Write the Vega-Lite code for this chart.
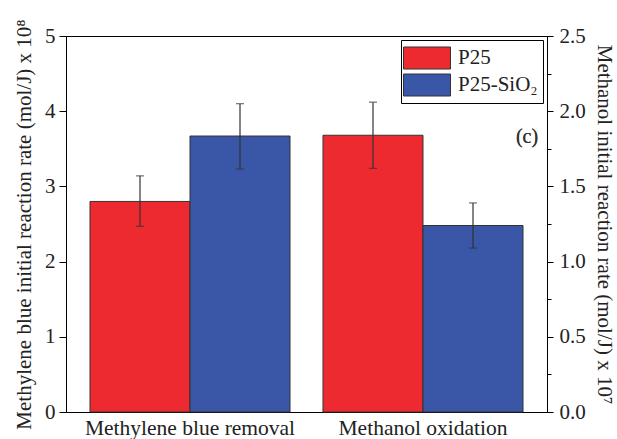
{
  "$schema": "https://vega.github.io/schema/vega-lite/v6.json",
  "width": 481,
  "height": 376,
  "autosize": {"type": "none"},
  "padding": {"left": 66, "top": 36, "right": 70, "bottom": 27},
  "background": "white",
  "config": {
    "font": "Liberation Serif",
    "view": {"stroke": "black", "strokeWidth": 1},
    "axis": {"domainColor": "black", "tickColor": "black", "labelColor": "#222", "titleColor": "#222", "titleFontWeight": "normal", "grid": false}
  },
  "datasets": {
    "mb": [
      {"process": "Methylene blue removal", "catalyst": "P25", "rate": 2.80, "lo": 2.47, "hi": 3.14},
      {"process": "Methylene blue removal", "catalyst": "P25-SiO₂", "rate": 3.67, "lo": 3.23, "hi": 4.10}
    ],
    "meoh": [
      {"process": "Methanol oxidation", "catalyst": "P25", "rate": 1.84, "lo": 1.62, "hi": 2.06},
      {"process": "Methanol oxidation", "catalyst": "P25-SiO₂", "rate": 1.24, "lo": 1.09, "hi": 1.39}
    ]
  },
  "encoding": {
    "x": {
      "field": "process", "type": "nominal",
      "sort": ["Methylene blue removal", "Methanol oxidation"],
      "scale": {"domain": ["Methylene blue removal", "Methanol oxidation"], "paddingInner": 0.1416, "paddingOuter": 0.103},
      "axis": {"title": null, "labelAngle": 0, "ticks": false, "labelFontSize": 21.5, "labelPadding": 5, "labelLimit": 0, "domainColor": "black"}
    },
    "xOffset": {"field": "catalyst", "type": "nominal", "scale": {"domain": ["P25", "P25-SiO₂"], "paddingInner": 0, "paddingOuter": 0}}
  },
  "layer": [
    {
      "data": {"name": "mb"},
      "layer": [
        {
          "mark": {"type": "bar", "stroke": "#333", "strokeWidth": 1},
          "encoding": {
            "y": {"field": "rate", "type": "quantitative",
              "scale": {"domain": [0, 5], "nice": false},
              "axis": {"title": "Methylene blue initial reaction rate (mol/J) x 10⁸", "orient": "left", "values": [0,1,2,3,4,5], "format": "d", "tickSize": 7, "labelFontSize": 21, "titleFontSize": 21, "labelPadding": 4, "titlePadding": 10}},
            "color": {"field": "catalyst", "type": "nominal",
              "scale": {"domain": ["P25", "P25-SiO₂"], "range": ["#ED2A2F", "#3A56A6"]},
              "legend": {"title": null, "orient": "top-right", "offset": 4, "strokeColor": "black", "padding": 5, "labelFontSize": 21, "labelColor": "#222", "symbolType": "M-1.88,-0.88H1.88V0.88H-1.88Z", "symbolSize": 625, "symbolOpacity": 1, "symbolStrokeColor": "#333", "symbolStrokeWidth": 1, "symbolOffset": 8, "rowPadding": 1, "labelOffset": 18}}
          }
        },
        {
          "mark": {"type": "rule", "color": "#333", "strokeWidth": 1.2},
          "encoding": {"y": {"field": "lo", "type": "quantitative"}, "y2": {"field": "hi"}}
        },
        {
          "mark": {"type": "tick", "color": "#333", "size": 8, "thickness": 1.2},
          "encoding": {"y": {"field": "lo", "type": "quantitative"}}
        },
        {
          "mark": {"type": "tick", "color": "#333", "size": 8, "thickness": 1.2},
          "encoding": {"y": {"field": "hi", "type": "quantitative"}}
        }
      ]
    },
    {
      "data": {"name": "meoh"},
      "layer": [
        {
          "mark": {"type": "bar", "stroke": "#333", "strokeWidth": 1},
          "encoding": {
            "y": {"field": "rate", "type": "quantitative",
              "scale": {"domain": [0, 2.5], "nice": false},
              "axis": {"title": "Methanol initial reaction rate (mol/J) x 10⁷", "orient": "right", "values": [0,0.5,1,1.5,2,2.5], "format": ".1f", "tickSize": 6, "labelFontSize": 21, "titleFontSize": 21, "labelPadding": 6, "titlePadding": 8}},
            "color": {"field": "catalyst", "type": "nominal"}
          }
        },
        {
          "mark": {"type": "rule", "color": "#333", "strokeWidth": 1.2},
          "encoding": {"y": {"field": "lo", "type": "quantitative"}, "y2": {"field": "hi"}}
        },
        {
          "mark": {"type": "tick", "color": "#333", "size": 8, "thickness": 1.2},
          "encoding": {"y": {"field": "lo", "type": "quantitative"}}
        },
        {
          "mark": {"type": "tick", "color": "#333", "size": 8, "thickness": 1.2},
          "encoding": {"y": {"field": "hi", "type": "quantitative"}}
        },
        {
          "mark": {"type": "text", "text": "(c)", "fontSize": 20, "color": "#333", "dx": 54},
          "encoding": {
            "x": {"datum": "Methanol oxidation"},
            "xOffset": {"datum": "P25-SiO₂"},
            "y": {"datum": 1.83}
          }
        }
      ]
    },
    {
      "data": {"name": "meoh"},
      "mark": {"type": "tick", "opacity": 0},
      "encoding": {
        "y": {"field": "rate", "type": "quantitative",
          "scale": {"domain": [0, 2.5], "nice": false},
          "axis": {"title": null, "orient": "right", "values": [0.25, 0.75, 1.25, 1.75, 2.25], "labels": false, "domain": false, "tickSize": 4, "tickColor": "black"}}
      }
    }
  ],
  "resolve": {"scale": {"y": "independent"}}
}
